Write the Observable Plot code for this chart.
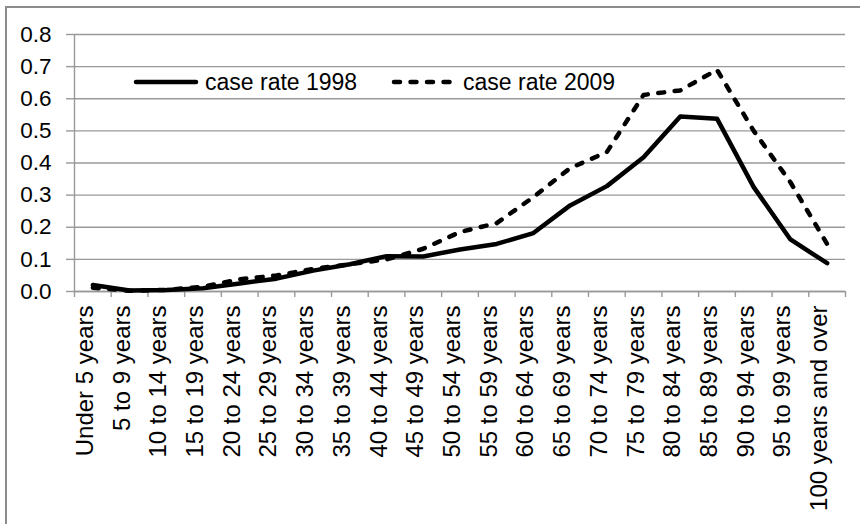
<!DOCTYPE html>
<html>
<head>
<meta charset="utf-8">
<script src="https://cdn.jsdelivr.net/npm/d3@7"></script>
<script src="https://cdn.jsdelivr.net/npm/@observablehq/plot@0.6"></script>
<style>
  body { margin: 0; background: #fff; font-family: "Liberation Sans", Arial, sans-serif; }
  #wrap { position: relative; width: 860px; height: 524px; overflow: hidden; background: #fff; }
  #chart { position: absolute; left: 0; top: 0; }
  .frameTop { position: absolute; left: 5px; top: 6px; width: 860px; height: 0; border-top: 2px solid #8c8c8c; }
  .frameLeft { position: absolute; left: 5px; top: 6px; width: 0; height: 530px; border-left: 2px solid #8c8c8c; }
  .leg { position: absolute; top: 69px; height: 26px; display: flex; align-items: center; font-size: 23px; line-height: 23px; color: #000; white-space: nowrap; }
  .leg svg { display: block; margin-right: 6px; }
</style>
</head>
<body>
<div id="wrap">
  <div id="chart"></div>
  <div class="frameTop"></div>
  <div class="frameLeft"></div>
  <div id="legend"></div>
</div>
<script>
const categories = [
  "Under 5 years", "5 to 9 years", "10 to 14 years", "15 to 19 years", "20 to 24 years",
  "25 to 29 years", "30 to 34 years", "35 to 39 years", "40 to 44 years", "45 to 49 years",
  "50 to 54 years", "55 to 59 years", "60 to 64 years", "65 to 69 years", "70 to 74 years",
  "75 to 79 years", "80 to 84 years", "85 to 89 years", "90 to 94 years", "95 to 99 years",
  "100 years and over"
];
const rate1998 = [0.020, 0.003, 0.005, 0.010, 0.025, 0.040, 0.065, 0.085, 0.110, 0.109,
                  0.131, 0.148, 0.182, 0.268, 0.328, 0.418, 0.545, 0.538, 0.325, 0.162, 0.088];
const rate2009 = [0.012, 0.002, 0.005, 0.015, 0.038, 0.050, 0.070, 0.085, 0.100, 0.133,
                  0.185, 0.213, 0.294, 0.384, 0.434, 0.612, 0.626, 0.690, 0.500, 0.340, 0.148];
const yTicks = [0, 0.1, 0.2, 0.3, 0.4, 0.5, 0.6, 0.7, 0.8];
const seriesNames = ["case rate 1998", "case rate 2009"];

const rows = categories.map((c, i) => ({ i, c, v1998: rate1998[i], v2009: rate2009[i] }));
const boundaries = d3.range(categories.length + 1);
const xc = d => d.i + 0.5;

const grey = "#999999";
const lineW = 4.5;
const dash = "6,10.5";

const plot = Plot.plot({
  width: 860,
  height: 524,
  marginLeft: 74,
  marginRight: 15,
  marginTop: 34,
  marginBottom: 233,
  style: { fontFamily: "'Liberation Sans', Arial, sans-serif", background: "transparent", color: "#000" },
  x: { type: "linear", domain: [0, categories.length], axis: null },
  y: { domain: [0, 0.8], axis: null },
  marks: [
    Plot.gridY(yTicks, { stroke: grey, strokeOpacity: 1, strokeWidth: 1.4 }),
    Plot.axisY(yTicks, {
      tickSize: 8, tickPadding: 15, tickFormat: d3.format(".1f"),
      fontSize: 22.5, stroke: grey, strokeWidth: 1.4, fill: "#000"
    }),
    Plot.ruleX([0], { y1: 0, y2: 0.8, stroke: grey, strokeWidth: 1.4 }),
    Plot.axisX(boundaries, {
      tickSize: 6, tickFormat: () => "", stroke: grey, strokeWidth: 1.4
    }),
    Plot.ruleY([0], { stroke: grey, strokeWidth: 1.4 }),
    Plot.text(rows, {
      x: xc, text: "c", frameAnchor: "bottom", rotate: -90, textAnchor: "end",
      dy: 14, fontSize: 24, fill: "#000"
    }),
    Plot.line(rows, { x: xc, y: "v1998", stroke: "#000", strokeWidth: lineW }),
    Plot.line(rows, { x: xc, y: "v2009", stroke: "#000", strokeWidth: lineW, strokeDasharray: dash })
  ]
});
document.getElementById("chart").appendChild(plot);

// legend inside the plot area
const legend = document.getElementById("legend");
const items = [
  { name: seriesNames[0], left: 133, dash: null },
  { name: seriesNames[1], left: 391, dash: dash }
];
for (const it of items) {
  const d = document.createElement("div");
  d.className = "leg";
  d.style.left = it.left + "px";
  d.innerHTML = `<svg width="66" height="10"><line x1="3" y1="5" x2="63" y2="5" stroke="#000" stroke-width="${lineW}" stroke-linecap="round" ${it.dash ? `stroke-dasharray="${it.dash}"` : ""}/></svg><span>${it.name}</span>`;
  legend.appendChild(d);
}
</script>
</body>
</html>
